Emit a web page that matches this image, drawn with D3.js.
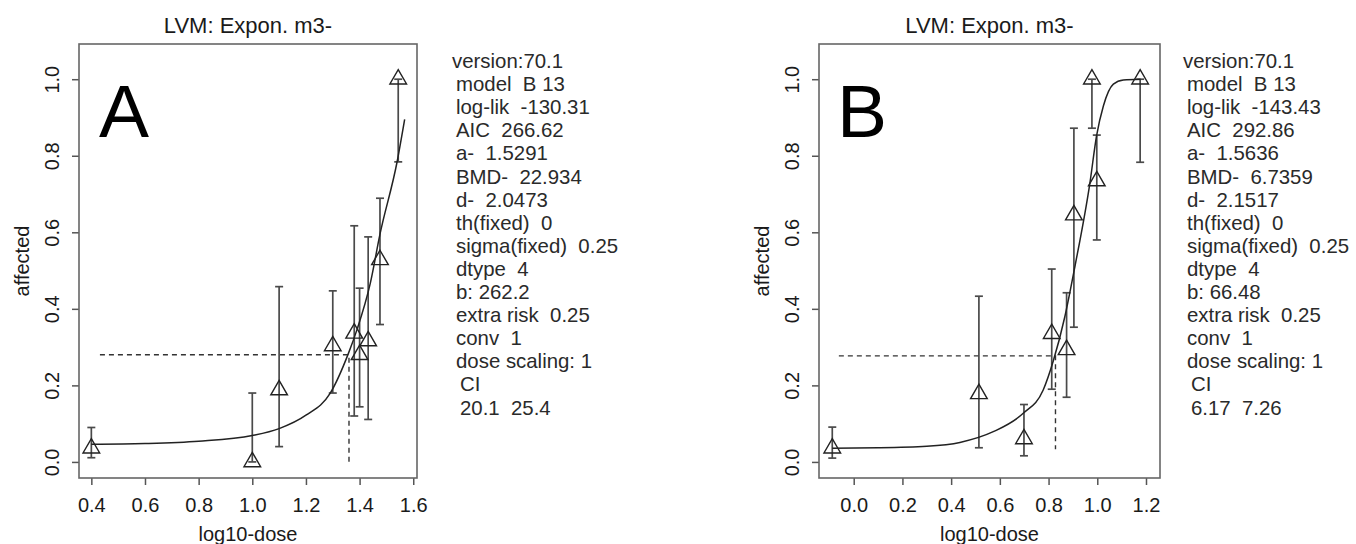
<!DOCTYPE html>
<html>
<head>
<meta charset="utf-8">
<script src="https://cdn.jsdelivr.net/npm/d3@7"></script>
<style>
  body { margin: 0; background: #fff; }
  text { font-family: "Liberation Sans", Arial, Helvetica, sans-serif; fill: #1a1a1a; }
</style>
</head>
<body>
<script>
// panel A data (log10-dose, observed fraction affected, CI)
const doseA = [0.4, 1.0, 1.1, 1.3, 1.38, 1.4, 1.432, 1.476, 1.544];
const affA = [0.036, 0.0, 0.188, 0.303, 0.336, 0.28, 0.316, 0.528, 1.0];
const loA = [0.011, 0.0, 0.04, 0.18, 0.12, 0.144, 0.111, 0.359, 0.784];
const hiA = [0.09, 0.18, 0.458, 0.447, 0.617, 0.454, 0.588, 0.689, 1.0];
// fitted curve
const fitXA = [0.4, 0.6, 0.8, 1.0, 1.1, 1.2, 1.29, 1.358, 1.39, 1.44, 1.476, 1.54, 1.568];
const fitYA = [0.046, 0.048, 0.054, 0.069, 0.087, 0.122, 0.179, 0.283, 0.345, 0.467, 0.595, 0.785, 0.895];
const statsA = ['version:70.1', 'model  B 13', 'log-lik  -130.31', 'AIC  266.62', 'a-  1.5291',
  'BMD-  22.934', 'd-  2.0473', 'th(fixed)  0', 'sigma(fixed)  0.25', 'dtype  4', 'b: 262.2',
  'extra risk  0.25', 'conv  1', 'dose scaling: 1', 'CI', '20.1  25.4'];

// panel B data
const doseB = [-0.088, 0.514, 0.699, 0.813, 0.874, 0.904, 0.978, 0.998, 1.176];
const affB = [0.036, 0.178, 0.06, 0.335, 0.293, 0.645, 1.0, 0.734, 1.0];
const loB = [0.01, 0.037, 0.016, 0.19, 0.169, 0.352, 0.872, 0.58, 0.783];
const hiB = [0.091, 0.433, 0.15, 0.504, 0.442, 0.872, 1.0, 0.854, 1.0];
const fitXB = [-0.088, 0.1, 0.3, 0.436, 0.573, 0.696, 0.778, 0.819, 0.867, 0.908, 0.97, 0.997, 1.025, 1.066, 1.107, 1.178];
const fitYB = [0.036, 0.037, 0.041, 0.051, 0.079, 0.127, 0.188, 0.263, 0.38, 0.51, 0.73, 0.852, 0.93, 0.987, 0.998, 1.0];
const statsB = ['version:70.1', 'model  B 13', 'log-lik  -143.43', 'AIC  292.86', 'a-  1.5636',
  'BMD-  6.7359', 'd-  2.1517', 'th(fixed)  0', 'sigma(fixed)  0.25', 'dtype  4', 'b: 66.48',
  'extra risk  0.25', 'conv  1', 'dose scaling: 1', 'CI', '6.17  7.26'];

const ticksA = [0.4, 0.6, 0.8, 1.0, 1.2, 1.4, 1.6];
const ticksB = [0.0, 0.2, 0.4, 0.6, 0.8, 1.0, 1.2];
const ticksY = [0.0, 0.2, 0.4, 0.6, 0.8, 1.0];

const canvasWidth = 1356;
const canvasHeight = 544;
const plotTop = 44;
const plotBottom = 478;

const svg = d3.select('body').append('svg')
  .attr('width', canvasWidth)
  .attr('height', canvasHeight);

function drawPanel(p) {
  const x = d3.scaleLinear().domain(p.xDomain).range([p.left, p.right]);
  const y = d3.scaleLinear().domain([-0.042, 1.092]).range([plotBottom, plotTop]);
  const g = svg.append('g');
  const cx = (p.left + p.right) / 2;

  g.append('text')
    .attr('x', cx).attr('y', 33)
    .attr('text-anchor', 'middle')
    .attr('font-size', 22)
    .text('LVM: Expon. m3-');

  g.append('text')
    .attr('x', p.letterX).attr('y', 137)
    .attr('font-size', 75)
    .style('fill', '#000')
    .text(p.letter);

  const xAxis = g.append('g')
    .attr('transform', `translate(0, ${plotBottom})`)
    .call(d3.axisBottom(x).tickValues(p.xTicks).tickSize(7).tickPadding(13).tickFormat(d3.format('.1f')));
  xAxis.select('.domain').remove();
  xAxis.selectAll('text').attr('font-size', 20);
  xAxis.selectAll('line').attr('stroke', '#555').attr('stroke-width', 1.5);
  xAxis.attr('font-family', null).attr('font-size', null);

  const yAxis = g.append('g')
    .attr('transform', `translate(${p.left}, 0)`)
    .call(d3.axisLeft(y).tickValues(ticksY).tickSize(7).tickFormat(d3.format('.1f')));
  yAxis.select('.domain').remove();
  yAxis.attr('font-family', null).attr('font-size', null);
  yAxis.selectAll('line').attr('stroke', '#555').attr('stroke-width', 1.5);
  yAxis.selectAll('text')
    .attr('x', null).attr('dy', null)
    .attr('transform', 'translate(-20, 0) rotate(-90)')
    .attr('text-anchor', 'middle')
    .attr('font-size', 20);

  g.append('text')
    .attr('transform', `translate(${p.left - 50}, ${(plotTop + plotBottom) / 2}) rotate(-90)`)
    .attr('text-anchor', 'middle')
    .attr('font-size', 20)
    .text('affected');

  g.append('text')
    .attr('x', cx).attr('y', 541)
    .attr('text-anchor', 'middle')
    .attr('font-size', 20)
    .text('log10-dose');

  // BMD / BMR reference lines
  const bmdX = Math.log10(p.bmd);
  g.append('path')
    .attr('d', `M${x(p.hStart)},${y(p.bmr)}H${x(bmdX)}V${y(p.vEnd)}`)
    .attr('fill', 'none')
    .attr('stroke', '#333')
    .attr('stroke-width', 1.4)
    .attr('stroke-dasharray', '5,4');

  // error bars
  const bars = g.append('g')
    .attr('stroke', '#4a4a4a')
    .attr('stroke-width', 1.7)
    .selectAll('g').data(p.dose)
    .enter().append('g');
  bars.append('line')
    .attr('x1', (d) => x(d)).attr('x2', (d) => x(d))
    .attr('y1', (d, i) => y(p.lo[i])).attr('y2', (d, i) => y(p.hi[i]));
  bars.append('line')
    .attr('x1', (d) => x(d) - 4).attr('x2', (d) => x(d) + 4)
    .attr('y1', (d, i) => y(p.lo[i])).attr('y2', (d, i) => y(p.lo[i]));
  bars.append('line')
    .attr('x1', (d) => x(d) - 4).attr('x2', (d) => x(d) + 4)
    .attr('y1', (d, i) => y(p.hi[i])).attr('y2', (d, i) => y(p.hi[i]));

  // fitted curve
  const line = d3.line()
    .x((d) => x(d[0]))
    .y((d) => y(d[1]))
    .curve(d3.curveMonotoneX);
  g.append('path')
    .datum(p.fitX.map((v, i) => [v, p.fitY[i]]))
    .attr('d', line)
    .attr('fill', 'none')
    .attr('stroke', '#222')
    .attr('stroke-width', 1.5);

  // observed points
  g.append('g')
    .selectAll('path').data(p.dose)
    .enter().append('path')
      .attr('d', d3.symbol().type(d3.symbolTriangle).size(120))
      .attr('transform', (d, i) => `translate(${x(d)}, ${y(p.aff[i])})`)
      .attr('fill', 'none')
      .attr('stroke', '#222')
      .attr('stroke-width', 1.4);

  g.append('rect')
    .attr('x', p.left).attr('y', plotTop)
    .attr('width', p.right - p.left).attr('height', plotBottom - plotTop)
    .attr('fill', 'none')
    .attr('stroke', '#666')
    .attr('stroke-width', 1.6);

  // model summary
  g.append('g')
    .selectAll('text').data(p.stats)
    .enter().append('text')
      .attr('x', (d, i) => p.textX + (i === 0 ? 0 : i >= 14 ? 8 : 4))
      .attr('y', (d, i) => 68 + i * 23.1)
      .attr('font-size', 20.4)
      .style('white-space', 'pre')
      .style('fill', '#2a2a2a')
      .text((d) => d);
}

drawPanel({
  left: 79, right: 417, xDomain: [0.354, 1.614], xTicks: ticksA,
  dose: doseA, aff: affA, lo: loA, hi: hiA, fitX: fitXA, fitY: fitYA,
  bmd: 22.934, bmr: 0.28, hStart: 0.432, vEnd: 0.0,
  letter: 'A', letterX: 99, stats: statsA, textX: 452
});

drawPanel({
  left: 819, right: 1160, xDomain: [-0.1425, 1.2575], xTicks: ticksB,
  dose: doseB, aff: affB, lo: loB, hi: hiB, fitX: fitXB, fitY: fitYB,
  bmd: 6.7359, bmr: 0.277, hStart: -0.061, vEnd: 0.033,
  letter: 'B', letterX: 837, stats: statsB, textX: 1183
});
</script>
</body>
</html>
